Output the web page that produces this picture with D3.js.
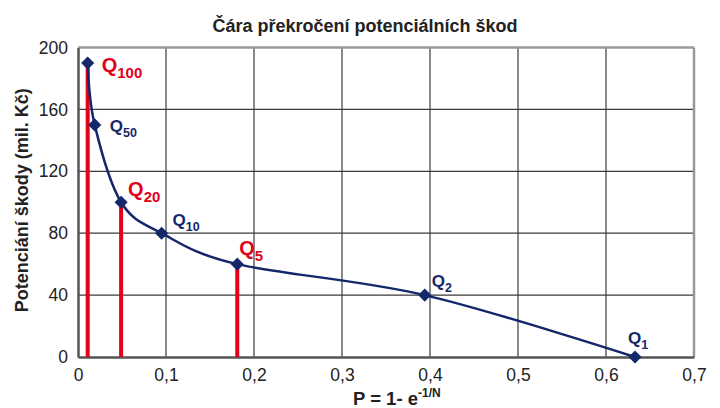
<!DOCTYPE html>
<html>
<head>
<meta charset="utf-8">
<script src="https://cdn.jsdelivr.net/npm/d3@7"></script>
<style>
  body { margin: 0; background: #fff; }
  text { font-family: "Liberation Sans", Arial, sans-serif; }
</style>
</head>
<body>
<div id="chart"></div>
<script>
// data
var names = ["1", "2", "5", "10", "20", "50", "100"];
var probs = [0.633, 0.394, 0.181, 0.095, 0.049, 0.019, 0.011];
var damages = [0, 40, 60, 80, 100, 150, 190];
var highlighted = ["5", "20", "100"];
var xTicks = [0, 0.1, 0.2, 0.3, 0.4, 0.5, 0.6, 0.7];
var yTicks = [0, 40, 80, 120, 160, 200];

var svgWidth = 720;
var svgHeight = 408;
var margin = { top: 47.5, right: 26, bottom: 51, left: 78 };
var width = svgWidth - margin.left - margin.right;
var height = svgHeight - margin.top - margin.bottom;

var navy = "#15276b";
var red = "#e2001a";

var svg = d3.select("#chart").append("svg")
  .attr("width", svgWidth)
  .attr("height", svgHeight);

var chart = svg.append("g")
  .attr("transform", `translate(${margin.left}, ${margin.top})`);

var x = d3.scaleLinear().domain([0, 0.7]).range([0, width]);
var y = d3.scaleLinear().domain([0, 200]).range([height, 0]);

var data = names.map((n, i) => ({ name: n, p: probs[i], v: damages[i] }));

// grid
chart.selectAll(".vgrid").data(xTicks.slice(1, -1)).enter().append("line")
  .attr("x1", d => x(d)).attr("x2", d => x(d))
  .attr("y1", 0).attr("y2", height)
  .attr("stroke", "#3a3a3a").attr("stroke-width", 1.2);
chart.selectAll(".hgrid").data(yTicks.slice(1, -1)).enter().append("line")
  .attr("x1", 0).attr("x2", width)
  .attr("y1", d => y(d)).attr("y2", d => y(d))
  .attr("stroke", "#3a3a3a").attr("stroke-width", 1.2);

// frame
chart.append("line").attr("x1", 0).attr("x2", width).attr("y1", 0).attr("y2", 0)
  .attr("stroke", "#999").attr("stroke-width", 2.5);
chart.append("line").attr("x1", width).attr("x2", width).attr("y1", 0).attr("y2", height)
  .attr("stroke", "#999").attr("stroke-width", 2.5);

// axes
var bottomAxis = d3.axisBottom(x).tickValues(xTicks).tickSize(0).tickPadding(12)
  .tickFormat(d => d === 0 ? "0" : d3.format(".1f")(d).replace(".", ","));
var leftAxis = d3.axisLeft(y).tickValues(yTicks).tickSize(0).tickPadding(10);

var gx = chart.append("g").attr("transform", `translate(0, ${height})`).call(bottomAxis);
var gy = chart.append("g").call(leftAxis);
[gx, gy].forEach(g => {
  g.select(".domain").attr("stroke", "#555").attr("stroke-width", 2.5);
  g.selectAll("text").attr("font-size", "17.5px").attr("fill", "#222");
});

// red drop lines
chart.selectAll(".drop").data(data.filter(d => highlighted.includes(d.name))).enter()
  .append("line")
  .attr("x1", d => x(d.p)).attr("x2", d => x(d.p))
  .attr("y1", d => y(d.v)).attr("y2", height)
  .attr("stroke", red).attr("stroke-width", 4);

// curve
var line = d3.line()
  .x(d => x(d.p)).y(d => y(d.v))
  .curve(d3.curveCardinal.tension(0));
chart.append("path").datum(data)
  .attr("d", line)
  .attr("fill", "none")
  .attr("stroke", navy)
  .attr("stroke-width", 2.5);

// markers
chart.selectAll(".mark").data(data).enter().append("path")
  .attr("d", d3.symbol().type(d3.symbolDiamond2).size(110))
  .attr("transform", d => `translate(${x(d.p)}, ${y(d.v)})`)
  .attr("fill", navy);

// labels
var labelOffset = {
  "1": [-7, -13], "2": [7, -8], "5": [2, -9], "10": [11, -7],
  "20": [7, -6], "50": [15, 7], "100": [14, 9]
};
data.forEach(d => {
  var hi = highlighted.includes(d.name);
  var off = labelOffset[d.name];
  var t = chart.append("text")
    .attr("x", x(d.p) + off[0])
    .attr("y", y(d.v) + off[1])
    .attr("font-weight", "bold")
    .attr("font-size", hi ? "20px" : "17px")
    .attr("fill", hi ? red : navy);
  t.append("tspan").text("Q");
  t.append("tspan").attr("dy", hi ? 6 : 5)
    .attr("font-size", hi ? "15px" : "12.5px").text(d.name);
});

// title
svg.append("text")
  .attr("x", 365).attr("y", 32)
  .attr("text-anchor", "middle")
  .attr("font-weight", "bold").attr("font-size", "18px").attr("fill", "#222")
  .text("Čára překročení potenciálních škod");

// axis titles
svg.append("text")
  .attr("transform", `translate(28, ${margin.top + height / 2 - 2}) rotate(-90)`)
  .attr("text-anchor", "middle")
  .attr("font-weight", "bold").attr("font-size", "18px").attr("fill", "#222")
  .text("Potenciání škody (mil. Kč)");

var xl = svg.append("text")
  .attr("x", 353).attr("y", 405)
  .attr("font-weight", "bold").attr("font-size", "18.5px").attr("fill", "#222");
xl.append("tspan").text("P = 1- e");
xl.append("tspan").attr("dy", -8).attr("font-size", "12px").text("-1/N");
</script>
</body>
</html>
